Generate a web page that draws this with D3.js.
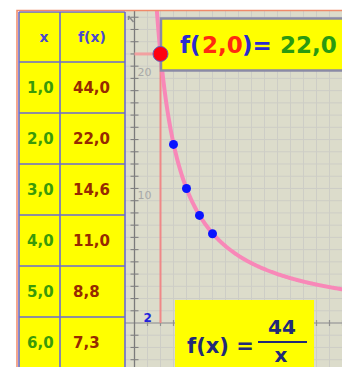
<!DOCTYPE html>
<html>
<head>
<meta charset="utf-8">
<script src="https://cdn.jsdelivr.net/npm/d3@7"></script>
<style>
  html, body { margin: 0; padding: 0; background: #ffffff; }
  svg { display: block; }
  text { font-family: "DejaVu Sans", Verdana, sans-serif; font-weight: bold; }
</style>
</head>
<body>
<svg id="chart" width="342" height="367"></svg>
<script>
// Table of values for f(x) = 44 / x
const coefficient = 44;
const xValues = [1, 2, 3, 4, 5, 6];
const xLabels = ["1,0", "2,0", "3,0", "4,0", "5,0", "6,0"];
const fValues = [44.0, 22.0, 14.6, 11.0, 8.8, 7.3];
const fLabels = ["44,0", "22,0", "14,6", "11,0", "8,8", "7,3"];
const headers = ["x", "f(x)"];

// Highlighted point
const selectedX = 2;
const selectedXLabel = "2,0";
const selectedY = 22.0;
const selectedYLabel = "22,0";

// Axis tick labels
const yTickLabels = [10, 20];
const xTickLabels = [2];

const W = 342, H = 367;
const svg = d3.select("#chart");

// ---------- graph panel ----------
const panel = { left: 125, top: 11, right: W, bottom: H };

const x = d3.scaleLinear().domain([0, 16]).range([134.5, 134.5 + 16 * 13]);
const y = d3.scaleLinear().domain([0, 25]).range([323, 323 - 25 * 12.23]);

svg.append("defs").append("clipPath").attr("id", "plotClip")
  .append("rect")
  .attr("x", panel.left).attr("y", panel.top)
  .attr("width", panel.right - panel.left).attr("height", panel.bottom - panel.top);

const plot = svg.append("g").attr("clip-path", "url(#plotClip)");

plot.append("rect")
  .attr("x", panel.left).attr("y", panel.top)
  .attr("width", panel.right - panel.left).attr("height", panel.bottom - panel.top)
  .attr("fill", "#dcdccb");

// grid every unit
const gx = d3.range(Math.floor(x.invert(panel.left)), Math.ceil(x.invert(panel.right)) + 1);
const gy = d3.range(Math.floor(y.invert(panel.bottom)), Math.ceil(y.invert(panel.top)) + 1);
plot.append("g").selectAll("line").data(gx).join("line")
  .attr("x1", d => x(d)).attr("x2", d => x(d))
  .attr("y1", panel.top).attr("y2", panel.bottom)
  .attr("stroke", "#cdcdc6").attr("stroke-width", 1);
plot.append("g").selectAll("line").data(gy).join("line")
  .attr("y1", d => y(d)).attr("y2", d => y(d))
  .attr("x1", panel.left).attr("x2", panel.right)
  .attr("stroke", "#cdcdc6").attr("stroke-width", 1);

// x axis
plot.append("line")
  .attr("x1", panel.left).attr("x2", panel.right)
  .attr("y1", y(0)).attr("y2", y(0))
  .attr("stroke", "#909090").attr("stroke-width", 1.2);
plot.append("g").selectAll("line").data(gx.filter(d => d !== 0)).join("line")
  .attr("x1", d => x(d)).attr("x2", d => x(d))
  .attr("y1", y(0) - 3).attr("y2", y(0) + 3)
  .attr("stroke", "#909090").attr("stroke-width", 1.2);

// y axis
plot.append("line")
  .attr("x1", x(0)).attr("x2", x(0))
  .attr("y1", panel.top).attr("y2", panel.bottom)
  .attr("stroke", "#7a7a7a").attr("stroke-width", 1.3);
plot.append("g").selectAll("line").data(gy.filter(d => d !== 0)).join("line")
  .attr("x1", x(0) - 4).attr("x2", x(0) + 4)
  .attr("y1", d => y(d)).attr("y2", d => y(d))
  .attr("stroke", "#808080").attr("stroke-width", 1.1);

// axis arrow at the top of the y axis
plot.append("path")
  .attr("d", `M${x(0) - 6},${panel.top + 5} L${x(0) - 1},${panel.top + 11} M${x(0) - 6},${panel.top + 5} L${x(0) - 6},${panel.top + 9}`)
  .attr("stroke", "#8a8a8a").attr("stroke-width", 1.5).attr("fill", "none");

// y tick labels
plot.append("g").selectAll("text").data(yTickLabels).join("text")
  .attr("x", x(0) + 3).attr("y", d => y(d) - 2)
  .attr("font-size", 11)
  .style("font-weight", "normal")
  .attr("fill", "#a8a8a8")
  .text(d => d);

// guide lines to the highlighted point
plot.append("line")
  .attr("x1", x(0)).attr("x2", x(selectedX))
  .attr("y1", y(selectedY)).attr("y2", y(selectedY))
  .attr("stroke", "#f2a0a0").attr("stroke-width", 3);
plot.append("line")
  .attr("x1", x(selectedX)).attr("x2", x(selectedX))
  .attr("y1", y(selectedY)).attr("y2", y(0))
  .attr("stroke", "#ef8888").attr("stroke-width", 2);

// x tick label at the highlighted abscissa
plot.append("g").selectAll("text").data(xTickLabels).join("text")
  .attr("x", d => x(d) - 17).attr("y", y(0) - 1)
  .attr("font-size", 12)
  .attr("fill", "#2222dd")
  .text(d => d);

// graph of f
const xs = d3.range(1.5, 17.01, 0.05);
const curve = d3.line().x(d => x(d)).y(d => y(coefficient / d));
plot.append("path")
  .datum(xs)
  .attr("d", curve)
  .attr("fill", "none")
  .attr("stroke", "#f888b8")
  .attr("stroke-width", 4);

// table points
const pts = xValues.map((v, i) => ({ x: v, f: fValues[i] })).filter(p => p.x !== selectedX);
plot.append("g").selectAll("circle").data(pts).join("circle")
  .attr("cx", d => x(d.x)).attr("cy", d => y(d.f))
  .attr("r", 4.5)
  .attr("fill", "#0a14ff");

// value box f(2,0)= 22,0
plot.append("rect")
  .attr("x", 161).attr("y", 18.5)
  .attr("width", 200).attr("height", 52)
  .attr("fill", "#ffff00")
  .attr("stroke", "#8a8aa6").attr("stroke-width", 2.5);
const vt = plot.append("text").attr("y", 53).attr("font-size", 23);
vt.append("tspan").attr("x", 180).attr("fill", "#2a2ad0").text("f(");
vt.append("tspan").attr("x", 202).attr("fill", "#ff2a10").text(selectedXLabel);
vt.append("tspan").attr("x", 242).attr("fill", "#2a2ad0").text(")=");
vt.append("tspan").attr("x", 280).attr("fill", "#2a9a10").text(selectedYLabel);

// highlighted point
plot.append("circle")
  .attr("cx", x(selectedX)).attr("cy", y(selectedY))
  .attr("r", 7.5)
  .attr("fill", "#ff0010")
  .attr("stroke", "#6060c0").attr("stroke-width", 1);

// formula box f(x) = 44 / x
const fb = plot.append("g");
fb.append("rect")
  .attr("x", 175).attr("y", 300)
  .attr("width", 139).attr("height", 80)
  .attr("fill", "#ffff00");
fb.append("text")
  .attr("x", 187).attr("y", 353)
  .attr("font-size", 21)
  .attr("fill", "#222a78")
  .text("f(x) =");
fb.append("line")
  .attr("x1", 258).attr("x2", 307)
  .attr("y1", 342).attr("y2", 342)
  .attr("stroke", "#222a78").attr("stroke-width", 2);
fb.append("text")
  .attr("x", 282).attr("y", 334)
  .attr("text-anchor", "middle")
  .attr("font-size", 20)
  .attr("fill", "#222a78")
  .text(coefficient);
fb.append("text")
  .attr("x", 281).attr("y", 362)
  .attr("text-anchor", "middle")
  .attr("font-size", 20)
  .attr("fill", "#222a78")
  .text("x");

// ---------- value table ----------
const tbl = { left: 19, mid: 60, right: 125, top: 12, headH: 50, rowH: 51 };
const table = svg.append("g");

table.append("rect")
  .attr("x", tbl.left).attr("y", tbl.top)
  .attr("width", tbl.right - tbl.left).attr("height", H - tbl.top + 5)
  .attr("fill", "#ffff00");

const rowTops = [tbl.top].concat(xValues.map((d, i) => tbl.top + tbl.headH + i * tbl.rowH));
table.append("g").selectAll("line").data(rowTops.concat([tbl.top + tbl.headH + xValues.length * tbl.rowH])).join("line")
  .attr("x1", tbl.left).attr("x2", tbl.right)
  .attr("y1", d => d).attr("y2", d => d)
  .attr("stroke", "#6a6ad2").attr("stroke-width", 1.6);
table.append("g").selectAll("line").data([tbl.left, tbl.mid, tbl.right]).join("line")
  .attr("x1", d => d).attr("x2", d => d)
  .attr("y1", tbl.top).attr("y2", H + 5)
  .attr("stroke", "#6a6ad2").attr("stroke-width", 1.6);

// header
table.append("text")
  .attr("x", 44).attr("y", tbl.top + tbl.headH / 2 + 5)
  .attr("text-anchor", "middle")
  .attr("font-size", 14).attr("fill", "#4848d0")
  .text(headers[0]);
table.append("text")
  .attr("x", 92).attr("y", tbl.top + tbl.headH / 2 + 5)
  .attr("text-anchor", "middle")
  .attr("font-size", 14).attr("fill", "#4848d0")
  .text(headers[1]);

// rows
table.append("g").selectAll("text").data(xLabels).join("text")
  .attr("x", 27).attr("y", (d, i) => tbl.top + tbl.headH + i * tbl.rowH + tbl.rowH / 2 + 5.5)
  .attr("font-size", 15).attr("fill", "#3a9a08")
  .text(d => d);
table.append("g").selectAll("text").data(fLabels).join("text")
  .attr("x", 73).attr("y", (d, i) => tbl.top + tbl.headH + i * tbl.rowH + tbl.rowH / 2 + 5.5)
  .attr("font-size", 15).attr("fill", "#962a00")
  .text(d => d);

// outer frame
svg.append("path")
  .attr("d", `M17,${H + 5} L17,10.5 L${W + 5},10.5`)
  .attr("fill", "none")
  .attr("stroke", "#f08a6a").attr("stroke-width", 1.5);
</script>
</body>
</html>
